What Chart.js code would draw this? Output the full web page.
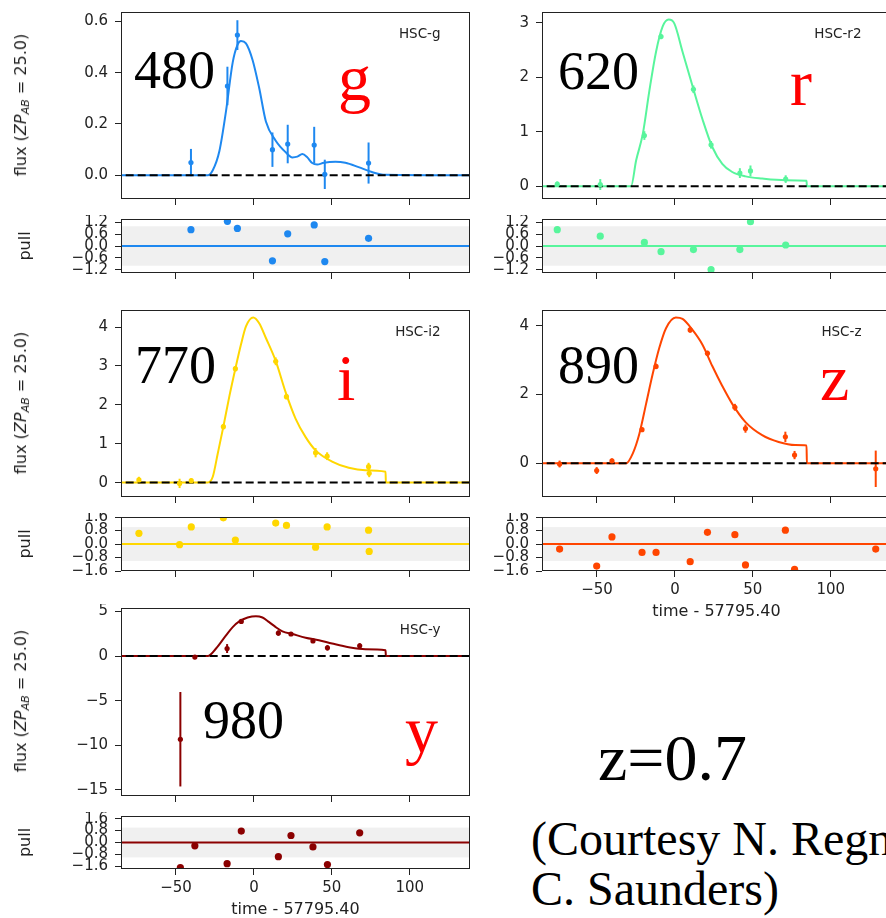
<!DOCTYPE html>
<html>
<head>
<meta charset="utf-8">
<script src="https://cdn.jsdelivr.net/npm/chart.js@4.4.1/dist/chart.umd.min.js"></script>
<style>
  html, body { margin: 0; padding: 0; background: #fff; }
  body { width: 886px; height: 918px; position: relative; overflow: hidden; }
  canvas { position: absolute; }
  .big { position: absolute; font-family: "Liberation Serif", "Times New Roman", serif; line-height: 1; white-space: nowrap; color: #000; }
  .red { color: #ff0000; }
  .ylab { position: absolute; transform: translate(-50%, -50%) rotate(-90deg); font: 16px "DejaVu Sans", sans-serif;
          color: #222; white-space: nowrap; line-height: 1; }
  .ylab sub { font-size: 0.7em; vertical-align: -0.3em; line-height: 0; }
</style>
</head>
<body>

<div class="big" style="left:134px;top:43px;font-size:54px">480</div>
<div class="big" style="left:558px;top:44px;font-size:54px">620</div>
<div class="big" style="left:135px;top:338px;font-size:54px">770</div>
<div class="big" style="left:558px;top:338px;font-size:54px">890</div>
<div class="big" style="left:203px;top:693px;font-size:54px">980</div>

<div class="big red" style="left:338px;top:45px;font-size:66px">g</div>
<div class="big red" style="left:790px;top:50px;font-size:66px">r</div>
<div class="big red" style="left:337px;top:345px;font-size:66px">i</div>
<div class="big red" style="left:820px;top:345px;font-size:66px">z</div>
<div class="big red" style="left:405px;top:697px;font-size:66px">y</div>

<div class="big" style="left:598px;top:725px;font-size:66px">z=0.7</div>
<div class="big" style="left:531px;top:815px;font-size:48px">(Courtesy N. Regnault &amp;</div>
<div class="big" style="left:531px;top:865px;font-size:48px">C. Saunders)</div>

<script>
// ---- data (time - 57795.40) ----
const xTicks = [-50, 0, 50, 100];
const zeroT = [-90, 140];

const gTime = [-40.4, -17.0, -10.6, 11.9, 21.7, 38.7, 45.5, 73.6];
const gFlux = [0.050, 0.348, 0.546, 0.100, 0.122, 0.118, 0.004, 0.048];
const gErr  = [0.053, 0.075, 0.058, 0.067, 0.075, 0.071, 0.057, 0.080];
const gPull = [0.83, 1.25, 0.89, -0.75, 0.62, 1.07, -0.79, 0.39];
const gModelT = [-90, -29.6, -26.4, -22.1, -17.9, -13.6, -10.4, -8.3, -5.1, -0.9, 3.4, 7.7, 14.0, 20.4, 24.7, 27.9, 31.1, 34.3, 37.4, 40.6, 44.9, 52.3, 58.7, 67.2, 75.7, 84.3, 140];
const gModelF = [0, 0, 0.02, 0.096, 0.25, 0.44, 0.51, 0.523, 0.514, 0.45, 0.34, 0.21, 0.135, 0.09, 0.07, 0.073, 0.083, 0.07, 0.048, 0.042, 0.049, 0.053, 0.049, 0.032, 0.013, 0.002, 0];

const rTime = [-75.5, -47.9, -19.6, -8.9, 11.9, 23.2, 41.7, 48.5, 71.1];
const rFlux = [0.036, 0.03, 0.93, 2.75, 1.78, 0.76, 0.24, 0.28, 0.13];
const rErr  = [0.05, 0.1, 0.08, 0.05, 0.07, 0.07, 0.09, 0.1, 0.07];
const rPull = [0.83, 0.50, 0.18, -0.29, -0.18, -1.2, -0.18, 1.23, 0.05];
const rModelT = [-90, -28.1, -24.9, -20.6, -16.4, -12.1, -7.9, -4.0, -0.4, 4.9, 11.3, 17.7, 24.0, 30.4, 36.8, 45.3, 56.0, 70.9, 84.5, 84.7, 140];
const rModelF = [0, 0, 0.47, 0.96, 1.75, 2.47, 2.93, 3.06, 2.99, 2.47, 1.84, 1.23, 0.72, 0.41, 0.26, 0.18, 0.14, 0.11, 0.1, 0, 0];

const iTime = [-73.8, -47.7, -40.2, -19.6, -11.9, 14.0, 20.9, 39.6, 47.0, 73.6, 74.0];
const iFlux = [0.07, -0.02, 0.05, 1.44, 2.93, 3.12, 2.21, 0.77, 0.68, 0.41, 0.24];
const iErr  = [0.08, 0.12, 0.06, 0.07, 0.07, 0.1, 0.07, 0.12, 0.1, 0.1, 0.1];
const iPull = [0.63, -0.04, 1.01, 1.55, 0.23, 1.24, 1.10, -0.19, 1.01, 0.82, -0.44];
const iModelT = [-90, -29.6, -26.4, -23.2, -19.6, -15.7, -11.9, -8.3, -5.1, -0.4, 3.4, 7.7, 14.0, 20.4, 26.8, 33.2, 39.6, 50.2, 60.9, 71.5, 84.5, 84.7, 140];
const iModelF = [0, 0, 0.15, 0.75, 1.44, 2.23, 2.93, 3.55, 4.02, 4.25, 4.1, 3.72, 3.13, 2.32, 1.64, 1.17, 0.83, 0.54, 0.38, 0.32, 0.28, 0, 0];

const zTime = [-74, -50.2, -40.4, -21.1, -12.1, 9.8, 20.9, 38.5, 45.3, 70.9, 76.8, 128.9];
const zFlux = [-0.02, -0.21, 0.07, 0.98, 2.82, 3.88, 3.2, 1.63, 1.01, 0.77, 0.24, -0.16];
const zErr  = [0.1, 0.1, 0.07, 0.06, 0.08, 0.08, 0.08, 0.1, 0.12, 0.15, 0.12, 0.53];
const zPull = [-0.30, -1.31, 0.42, -0.50, -0.50, -1.05, 0.69, 0.55, -1.24, 0.82, -1.50, -0.30];
const zModelT = [-90, -31.3, -27, -22.8, -18.5, -14.3, -10, -5.7, 0.6, 4.9, 11.3, 17.7, 24, 30.4, 36.8, 45.3, 56, 66.6, 77.2, 84.5, 84.7, 140];
const zModelF = [0, 0, 0.29, 0.86, 1.73, 2.59, 3.36, 3.93, 4.24, 4.2, 3.88, 3.45, 2.83, 2.25, 1.73, 1.2, 0.82, 0.62, 0.53, 0.52, 0, 0];

const yTime = [-47.2, -37.9, -17.2, -8.1, 15.7, 23.8, 37.9, 47.2, 67.9];
const yFlux = [-9.33, -0.11, 0.85, 3.89, 2.59, 2.48, 1.7, 0.93, 1.15];
const yErr  = [5.3, 0.2, 0.5, 0.2, 0.3, 0.2, 0.2, 0.3, 0.3];
const yPull = [-1.68, -0.22, -1.42, 0.77, -0.95, 0.47, -0.30, -1.48, 0.65];
const yModelT = [-90, -29.6, -24.3, -17.9, -13.6, -9.4, -4, 1.3, 5.5, 9.8, 14, 18.3, 24.7, 33.2, 41.7, 50.2, 60.9, 71.5, 84.5, 84.7, 140];
const yModelF = [0, 0, 0.85, 2.33, 3.26, 3.89, 4.33, 4.48, 4.33, 3.81, 3.26, 2.78, 2.48, 2.07, 1.78, 1.41, 1.0, 0.78, 0.67, 0, 0];

const gFluxTicks = [0, 0.2, 0.4, 0.6];
const rFluxTicks = [0, 1, 2, 3];
const iFluxTicks = [0, 1, 2, 3, 4];
const zFluxTicks = [0, 2, 4];
const yFluxTicks = [-15, -10, -5, 0, 5];
const pullTicksSmall = [-1.2, -0.6, 0, 0.6, 1.2];
const pullTicksLarge = [-1.6, -0.8, 0, 0.8, 1.6];

// ---- layout ----
const xRange = [-85.3, 138.7];
const plotW = 351;
const cols = [{ left: 0, yWidth: 121 }, { left: 480, yWidth: 62 }];
const rows = [
  { fluxTop: 10, fluxH: 189, pullTop: 217, pullH: 56 },
  { fluxTop: 308, fluxH: 189, pullTop: 515, pullH: 56 },
  { fluxTop: 606, fluxH: 190, pullTop: 814, pullH: 55 }
];
const ink = '#222';
Chart.defaults.font.family = '"DejaVu Sans", sans-serif';
Chart.defaults.color = ink;

const panels = [
  { col: 0, row: 0, name: 'HSC-g',  color: '#1e88f0', t: gTime, f: gFlux, e: gErr, p: gPull, mt: gModelT, mf: gModelF,
    yLim: [-0.092, 0.636], yTicks: gFluxTicks, dec: 1, pullLim: 1.37, pullTicks: pullTicksSmall, bottom: false },
  { col: 1, row: 0, name: 'HSC-r2', color: '#58f59c', t: rTime, f: rFlux, e: rErr, p: rPull, mt: rModelT, mf: rModelF,
    yLim: [-0.236, 3.2], yTicks: rFluxTicks, dec: 0, pullLim: 1.37, pullTicks: pullTicksSmall, bottom: false },
  { col: 0, row: 1, name: 'HSC-i2', color: '#ffd700', t: iTime, f: iFlux, e: iErr, p: iPull, mt: iModelT, mf: iModelF,
    yLim: [-0.37, 4.44], yTicks: iFluxTicks, dec: 0, pullLim: 1.6, pullTicks: pullTicksLarge, bottom: false },
  { col: 1, row: 1, name: 'HSC-z',  color: '#ff4500', t: zTime, f: zFlux, e: zErr, p: zPull, mt: zModelT, mf: zModelF,
    yLim: [-0.98, 4.46], yTicks: zFluxTicks, dec: 0, pullLim: 1.6, pullTicks: pullTicksLarge, bottom: true },
  { col: 0, row: 2, name: 'HSC-y',  color: '#8b0000', t: yTime, f: yFlux, e: yErr, p: yPull, mt: yModelT, mf: yModelF,
    yLim: [-15.7, 5.4], yTicks: yFluxTicks, dec: 0, pullLim: 1.78, pullTicks: pullTicksLarge, bottom: true }
];

const fmt = dec => v => (v < 0 ? '\u2212' : '') + Math.abs(v).toFixed(dec);
const zip = (xs, ys) => xs.map((x, i) => ({ x: x, y: ys[i] }));
const noPad = s => { s.paddingTop = 0; s.paddingBottom = 0; s.paddingLeft = 0; s.paddingRight = 0; };

// frame, shaded pull band, error bars and panel label
const framePlugin = {
  id: 'frame',
  beforeDatasetsDraw(chart, args, opts) {
    const { ctx, chartArea: a, scales: { x, y } } = chart;
    ctx.save();
    ctx.beginPath();
    ctx.rect(a.left, a.top, a.width, a.height);
    ctx.clip();
    if (opts.band) {
      const top = y.getPixelForValue(opts.band), bot = y.getPixelForValue(-opts.band);
      ctx.fillStyle = '#f0f0f0';
      ctx.fillRect(a.left, top, a.width, bot - top);
    }
    chart.data.datasets.forEach(ds => {
      if (!ds.errors) return;
      ctx.strokeStyle = ds.backgroundColor;
      ctx.lineWidth = 2;
      ds.data.forEach((pt, i) => {
        const px = x.getPixelForValue(pt.x);
        ctx.beginPath();
        ctx.moveTo(px, y.getPixelForValue(pt.y - ds.errors[i]));
        ctx.lineTo(px, y.getPixelForValue(pt.y + ds.errors[i]));
        ctx.stroke();
      });
    });
    ctx.restore();
  },
  afterDraw(chart, args, opts) {
    const { ctx, chartArea: a } = chart;
    ctx.save();
    ctx.strokeStyle = ink;
    ctx.lineWidth = 1;
    ctx.strokeRect(Math.round(a.left) + 0.5, Math.round(a.top) + 0.5, Math.round(a.width) - 1, Math.round(a.height) - 1);
    if (opts.label) {
      ctx.fillStyle = ink;
      ctx.font = '13.5px "DejaVu Sans"';
      ctx.textAlign = 'right';
      ctx.textBaseline = 'middle';
      ctx.fillText(opts.label, a.right - 29.5, a.top + 22.5);
    }
    ctx.restore();
  }
};

function addCanvas(left, top, w, h) {
  const c = document.createElement('canvas');
  c.width = w; c.height = h;
  c.style.left = left + 'px';
  c.style.top = top + 'px';
  document.body.appendChild(c);
  return c;
}

function axes(o) {
  return {
    x: {
      type: 'linear', min: xRange[0], max: xRange[1],
      afterBuildTicks: s => { s.ticks = xTicks.map(v => ({ value: v })); },
      afterFit: s => { s.height = o.xHeight; noPad(s); },
      ticks: { display: o.xLabels, callback: fmt(0), font: { size: 15 }, padding: 4, maxRotation: 0, autoSkip: false },
      grid: { drawOnChartArea: false, tickLength: 6, tickColor: ink, tickWidth: 1 },
      border: { display: false },
      title: { display: o.xLabels, text: 'time - 57795.40', font: { size: 16 }, padding: 0 }
    },
    y: {
      type: 'linear', min: o.yLim[0], max: o.yLim[1],
      afterBuildTicks: s => { s.ticks = o.yTicks.map(v => ({ value: v })); },
      afterFit: s => { s.width = o.yWidth; noPad(s); },
      ticks: { callback: fmt(o.dec), font: { size: 15 }, padding: 7, autoSkip: false },
      grid: { drawOnChartArea: false, tickLength: 6, tickColor: ink, tickWidth: 1 },
      border: { display: false },
      title: { display: !!o.yTitle, text: o.yTitle || '', font: { size: 16 }, padding: { top: 16, bottom: 0 } }
    }
  };
}

function makeChart(canvas, datasets, scaleOpts, frameOpts) {
  return new Chart(canvas, {
    type: 'scatter',
    data: { datasets: datasets },
    options: {
      responsive: false, animation: false, devicePixelRatio: 1,
      layout: { padding: { top: 2, right: 2, left: 0, bottom: 0 } },
      plugins: { legend: { display: false }, tooltip: { enabled: false }, frame: frameOpts },
      scales: axes(scaleOpts)
    },
    plugins: [framePlugin]
  });
}

panels.forEach(p => {
  const col = cols[p.col], row = rows[p.row];
  const w = col.yWidth + plotW + 2;

  // flux panel
  const fc = addCanvas(col.left, row.fluxTop - 2, w, row.fluxH + 2 + 8);
  makeChart(fc, [
    { data: zip(p.t, p.f), errors: p.e, backgroundColor: p.color, borderColor: p.color,
      pointRadius: 2.6, pointBorderWidth: 0, order: 0 },
    { data: zip(zeroT, [0, 0]), showLine: true, borderColor: '#000', borderWidth: 2, borderDash: [8, 4],
      pointRadius: 0, order: 1 },
    { data: zip(p.mt, p.mf), showLine: true, borderColor: p.color, borderWidth: 2, pointRadius: 0,
      cubicInterpolationMode: 'monotone', tension: 0.4, order: 2 }
  ], { xHeight: 8, xLabels: false, yLim: p.yLim, yTicks: p.yTicks, dec: p.dec, yWidth: col.yWidth },
  { label: p.name });

  // pull panel
  const xh = p.bottom ? 50 : 8;
  const pc = addCanvas(col.left, row.pullTop - 2, w, row.pullH + 2 + xh);
  makeChart(pc, [
    { data: zip(p.t, p.p), backgroundColor: p.color, borderColor: p.color, pointRadius: 3.6, pointBorderWidth: 0, order: 0 },
    { data: zip(zeroT, [0, 0]), showLine: true, borderColor: p.color, borderWidth: 2, pointRadius: 0, order: 1 }
  ], { xHeight: xh, xLabels: p.bottom, yLim: [-p.pullLim, p.pullLim], yTicks: p.pullTicks, dec: 1,
       yWidth: col.yWidth, yTitle: p.col === 0 ? 'pull' : '' },
  { band: 1 });

  // flux axis title, left column only
  if (p.col === 0) {
    const lab = document.createElement('div');
    lab.className = 'ylab';
    lab.style.left = '21px';
    lab.style.top = (row.fluxTop + row.fluxH / 2) + 'px';
    lab.innerHTML = 'flux (<i>ZP<sub>AB</sub></i> = 25.0)';
    document.body.appendChild(lab);
  }
});
</script>
</body>
</html>
